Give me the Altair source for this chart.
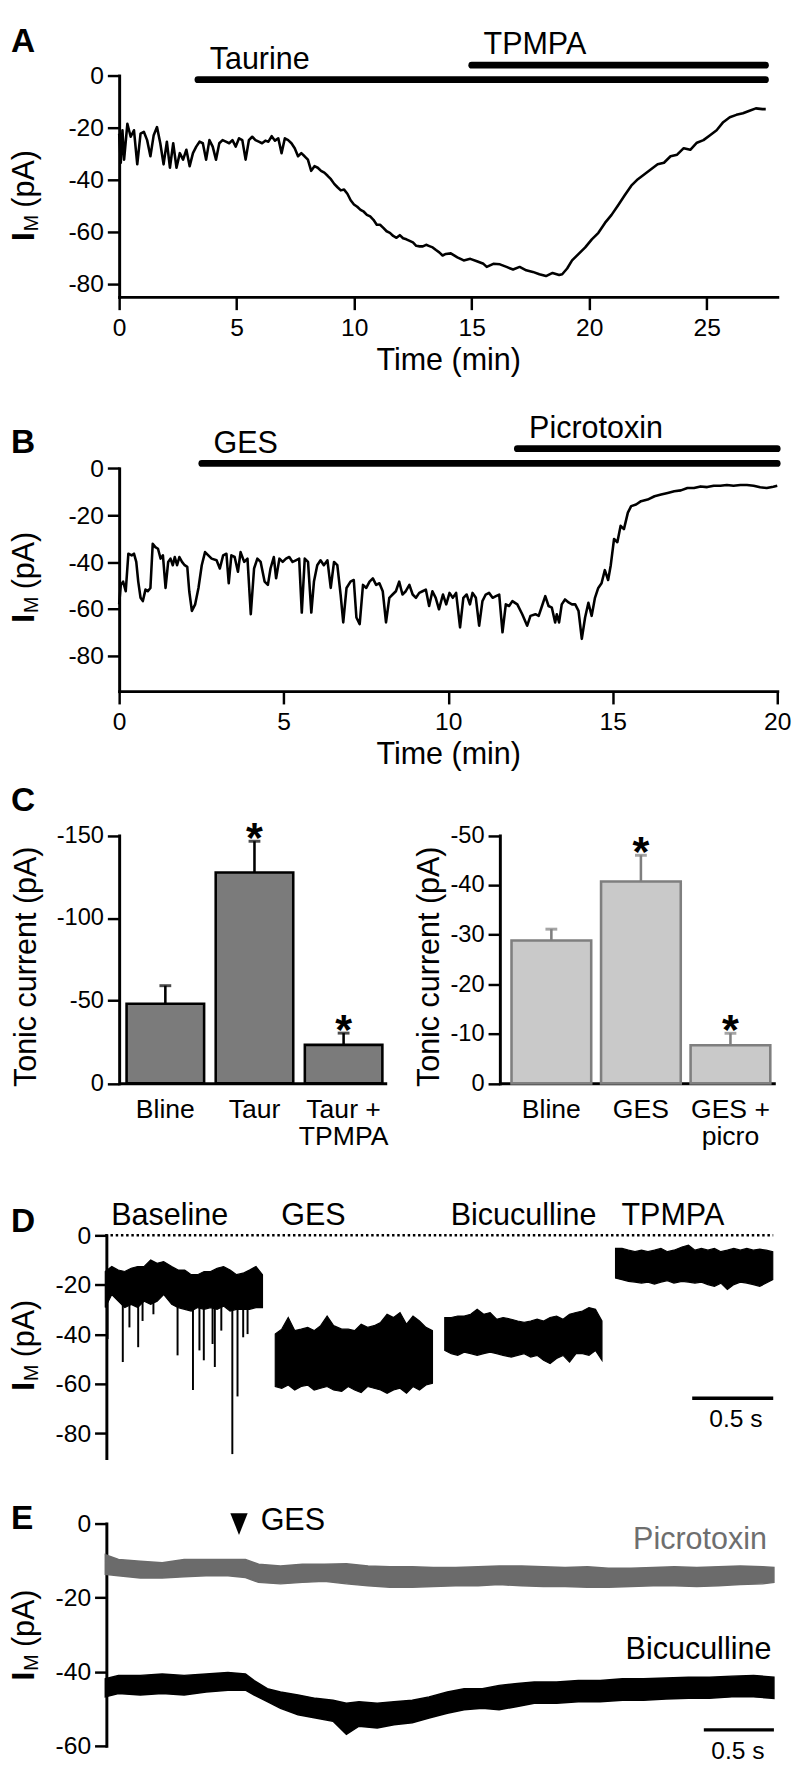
import altair as alt
import pandas as pd

FONT = "Liberation Sans"
W = 669

# ---------------- Panel A : taurine / TPMPA time course ----------------
A_TIME = [0.00, 0.07, 0.14, 0.21, 0.35, 0.49, 0.63, 0.77, 0.91, 1.05,
          1.19, 1.33, 1.47, 1.61, 1.75, 1.89, 2.03, 2.16, 2.30, 2.44,
          2.58, 2.72, 2.86, 3.00, 3.14, 3.28, 3.42, 3.56, 3.70, 3.84,
          3.98, 4.12, 4.26, 4.40, 4.54, 4.68, 4.82, 4.96, 5.10, 5.24,
          5.38, 5.52, 5.66, 5.80, 5.94, 6.08, 6.22, 6.35, 6.49, 6.63,
          6.77, 6.91, 7.05, 7.19, 7.33, 7.47, 7.61, 7.75, 7.89, 8.03,
          8.17, 8.31, 8.45, 8.59, 8.73, 8.87, 9.01, 9.15, 9.29, 9.43,
          9.57, 9.71, 9.85, 9.99, 10.13, 10.27, 10.41, 10.54, 10.68, 10.82,
          10.96, 11.10, 11.24, 11.38, 11.52, 11.66, 11.80, 11.94, 12.08, 12.22,
          12.36, 12.50, 12.64, 12.78, 12.92, 13.06, 13.20, 13.34, 13.48, 13.62,
          13.76, 13.90, 14.11, 14.39, 14.66, 14.94, 15.22, 15.50, 15.64, 15.92,
          16.20, 16.48, 16.76, 17.04, 17.32, 17.60, 17.88, 18.16, 18.44, 18.72,
          18.85, 19.06, 19.27, 19.55, 19.83, 20.11, 20.39, 20.67, 20.95, 21.23,
          21.51, 21.79, 22.07, 22.35, 22.63, 22.91, 23.18, 23.46, 23.74, 24.02,
          24.30, 24.58, 24.86, 25.14, 25.42, 25.70, 25.98, 26.26, 26.54, 26.82,
          27.09, 27.37, 27.51]
A_CURRENT = [-22.3, -33.5, -21.0, -32.3, -18.5, -23.5, -21.0, -34.1, -22.3, -21.6,
             -24.8, -31.0, -22.9, -19.8, -26.0, -34.1, -25.4, -35.4, -26.0, -35.4,
             -29.8, -32.3, -28.5, -34.8, -29.8, -27.3, -25.4, -26.0, -32.3, -24.8,
             -27.3, -32.3, -26.0, -24.8, -25.4, -26.0, -24.8, -27.3, -24.1, -24.8,
             -32.3, -24.8, -23.5, -24.8, -25.4, -26.0, -25.0, -25.4, -23.3, -25.0,
             -24.1, -29.8, -24.1, -24.8, -26.0, -27.9, -31.0, -29.8, -31.0, -32.3,
             -36.6, -34.8, -35.4, -36.6, -37.3, -38.5, -39.8, -41.6, -42.9, -44.1,
             -43.8, -45.4, -47.9, -49.5, -50.4, -51.6, -52.3, -53.5, -54.1, -55.4,
             -57.3, -57.3, -58.5, -59.8, -60.4, -61.6, -62.3, -61.3, -62.5, -62.9,
             -63.5, -64.1, -65.4, -65.6, -65.6, -65.0, -65.5, -66.0, -67.0, -67.9,
             -69.1, -68.5, -68.3, -69.8, -71.0, -70.4, -71.3, -72.3, -73.5, -72.3,
             -72.5, -73.5, -74.5, -73.5, -74.8, -75.4, -76.3, -77.0, -75.8, -76.6,
             -76.3, -74.1, -71.0, -68.5, -66.0, -62.9, -60.4, -56.6, -53.5, -49.8,
             -46.0, -42.3, -39.8, -37.9, -36.0, -34.1, -33.5, -31.0, -30.4, -27.9,
             -28.5, -25.8, -24.8, -22.9, -21.0, -17.9, -16.0, -15.1, -14.5, -13.5,
             -12.6, -12.9, -12.9]
A_DRUG = ["Taurine", "TPMPA"]
A_DRUG_ON = [3.35, 15.0]
A_DRUG_OFF = [27.5, 27.5]
A_DRUG_LEVEL = [-1.6, 4.0]

# ---------------- Panel B : GES / picrotoxin time course ----------------
B_TIME = [0.00, 0.05, 0.12, 0.20, 0.28, 0.38, 0.45, 0.52, 0.58, 0.65,
          0.72, 0.80, 0.87, 0.95, 1.02, 1.10, 1.18, 1.26, 1.33, 1.41,
          1.49, 1.56, 1.63, 1.69, 1.76, 1.83, 1.91, 1.99, 2.07, 2.13,
          2.21, 2.31, 2.41, 2.51, 2.61, 2.71, 2.81, 2.96, 3.06, 3.16,
          3.26, 3.33, 3.41, 3.51, 3.61, 3.69, 3.80, 3.90, 4.00, 4.10,
          4.20, 4.30, 4.42, 4.52, 4.60, 4.70, 4.77, 4.87, 4.97, 5.07,
          5.17, 5.27, 5.37, 5.47, 5.55, 5.64, 5.74, 5.84, 5.92, 6.02,
          6.12, 6.22, 6.33, 6.43, 6.53, 6.63, 6.73, 6.81, 6.91, 7.03,
          7.13, 7.21, 7.31, 7.41, 7.51, 7.61, 7.71, 7.81, 7.91, 8.01,
          8.11, 8.21, 8.31, 8.41, 8.51, 8.61, 8.71, 8.82, 8.92, 9.02,
          9.12, 9.22, 9.32, 9.42, 9.52, 9.62, 9.72, 9.84, 9.94, 10.04,
          10.14, 10.24, 10.36, 10.46, 10.56, 10.66, 10.74, 10.84, 10.94, 11.04,
          11.14, 11.24, 11.35, 11.45, 11.55, 11.65, 11.75, 11.85, 11.95, 12.10,
          12.25, 12.40, 12.50, 12.65, 12.75, 12.85, 12.95, 13.05, 13.15, 13.25,
          13.30, 13.37, 13.45, 13.55, 13.67, 13.76, 13.86, 13.96, 14.06, 14.16,
          14.26, 14.36, 14.46, 14.56, 14.66, 14.76, 14.86, 14.94, 15.04, 15.14,
          15.24, 15.34, 15.46, 15.56, 15.71, 15.86, 16.06, 16.27, 16.47, 16.67,
          16.87, 17.07, 17.27, 17.47, 17.67, 17.87, 18.07, 18.27, 18.47, 18.67,
          18.88, 19.08, 19.28, 19.48, 19.68, 19.88, 20.00]
B_CURRENT = [-58.0, -49.7, -48.3, -52.4, -36.4, -37.1, -36.4, -39.9, -48.3, -55.2,
             -56.6, -51.7, -52.4, -51.0, -32.2, -33.6, -34.3, -38.5, -37.1, -51.0,
             -39.9, -38.5, -41.3, -37.8, -41.3, -37.8, -39.9, -41.3, -42.0, -52.4,
             -60.8, -58.0, -51.0, -41.3, -35.7, -37.1, -38.5, -39.2, -42.7, -37.1,
             -36.4, -49.0, -37.1, -37.8, -44.1, -35.7, -39.9, -38.5, -62.2, -42.7,
             -38.5, -39.9, -48.3, -49.7, -42.7, -37.8, -46.9, -38.5, -39.9, -38.5,
             -37.8, -39.9, -39.2, -38.5, -61.5, -38.5, -39.9, -61.5, -48.3, -41.3,
             -39.2, -41.3, -39.2, -51.0, -39.9, -41.3, -53.8, -65.7, -51.0, -48.3,
             -47.6, -63.6, -66.4, -49.7, -51.0, -48.3, -46.9, -49.7, -49.0, -52.4,
             -65.7, -55.2, -53.8, -52.4, -48.3, -53.8, -52.4, -49.7, -53.8, -55.2,
             -53.1, -52.4, -51.7, -58.7, -52.4, -55.2, -60.1, -53.8, -58.0, -53.1,
             -55.2, -53.1, -67.8, -55.2, -53.8, -58.0, -53.1, -55.2, -67.1, -56.6,
             -53.8, -53.1, -55.2, -54.5, -53.8, -69.9, -58.0, -58.7, -56.6, -58.0,
             -62.2, -67.1, -62.9, -62.2, -62.9, -58.7, -54.5, -58.7, -59.4, -65.7,
             -62.2, -65.7, -58.0, -55.9, -57.3, -58.0, -58.0, -60.8, -72.7, -63.6,
             -57.3, -62.9, -55.2, -51.0, -49.0, -43.4, -47.6, -41.3, -30.1, -31.5,
             -24.5, -25.9, -18.9, -16.1, -15.4, -14.0, -13.3, -11.9, -11.2, -10.5,
             -9.8, -9.4, -8.4, -8.4, -7.7, -8.0, -7.4, -7.4, -7.1, -7.4,
             -7.1, -7.1, -7.4, -8.1, -8.4, -7.8, -7.4]
B_DRUG = ["GES", "Picrotoxin"]
B_DRUG_ON = [2.51, 12.1]
B_DRUG_OFF = [20.0, 20.0]
B_DRUG_LEVEL = [2.1, 8.4]

# ---------------- Panel C : tonic current bars ----------------
C_LEFT_CATS = ["Bline", "Taur", "Taur +\nTPMPA"]
C_LEFT_MEAN = [-48.2, -127.6, -23.3]
C_LEFT_SEM_TOP = [-59.1, -146.5, -30.4]
C_LEFT_SIG = [False, True, True]
C_RIGHT_CATS = ["Bline", "GES", "GES +\npicro"]
C_RIGHT_MEAN = [-28.8, -40.7, -7.7]
C_RIGHT_SEM_TOP = [-31.1, -46.0, -10.1]
C_RIGHT_SIG = [False, True, True]

# ---------------- Panel D : 1-s current sweeps ----------------
D_SEGMENTS = ["Baseline", "GES", "Bicuculline", "TPMPA"]
D_SEG_START = [0.0, 1.049, 2.095, 3.149]
D_T_LOCAL = [0.00, 0.04, 0.08, 0.12, 0.16, 0.20, 0.24, 0.28, 0.32, 0.36,
             0.41, 0.45, 0.49, 0.53, 0.57, 0.61, 0.65, 0.69, 0.73, 0.77,
             0.81, 0.85, 0.89, 0.93, 0.97]
D_UPPER = {
    "Baseline": [-14.6, -12.6, -14.0, -14.6, -13.3, -12.6, -12.6, -10.0, -11.3, -10.6,
                 -12.6, -14.0, -14.0, -15.9, -15.9, -14.6, -14.6, -13.3, -12.6, -14.0,
                 -15.9, -15.3, -14.0, -12.6, -15.9],
    "GES": [-39.9, -37.9, -33.2, -38.5, -37.9, -37.2, -38.5, -36.5, -32.6, -36.5,
            -37.9, -37.9, -38.5, -35.9, -37.2, -36.5, -35.2, -31.9, -33.2, -31.2,
            -35.9, -32.6, -34.6, -37.2, -38.5],
    "Bicuculline": [-33.2, -33.2, -32.6, -32.6, -31.9, -29.9, -31.9, -31.2, -33.9, -33.2,
                    -33.9, -34.6, -35.2, -34.6, -33.9, -34.6, -33.2, -32.6, -33.9, -31.9,
                    -31.2, -30.6, -29.2, -29.9, -34.6],
    "TPMPA": [-5.3, -5.3, -6.0, -6.6, -6.0, -6.6, -6.0, -5.3, -6.6, -6.0,
              -4.7, -4.0, -6.0, -5.3, -6.0, -5.3, -6.6, -6.0, -5.3, -6.0,
              -5.3, -6.0, -5.6, -6.0, -6.6],
}
D_LOWER = {
    "Baseline": [-29.2, -23.9, -26.6, -29.2, -27.9, -29.2, -26.6, -27.9, -26.6, -23.9,
                 -27.9, -29.2, -29.9, -30.6, -29.2, -29.9, -29.2, -29.9, -28.6, -30.6,
                 -29.9, -29.9, -29.9, -29.2, -29.2],
    "GES": [-61.1, -61.8, -60.5, -62.5, -61.1, -60.5, -62.5, -61.8, -61.1, -62.5,
            -63.1, -61.1, -62.5, -63.5, -61.1, -61.8, -62.5, -63.8, -62.5, -61.8,
            -63.8, -61.1, -62.5, -60.5, -59.8],
    "Bicuculline": [-46.5, -47.8, -48.5, -47.2, -47.8, -48.5, -47.8, -47.2, -47.8, -48.5,
                    -49.2, -48.5, -47.8, -49.2, -48.5, -50.5, -51.8, -49.8, -48.5, -51.2,
                    -47.8, -47.8, -48.5, -46.5, -50.5],
    "TPMPA": [-17.3, -17.9, -18.6, -18.9, -19.3, -18.9, -19.7, -18.9, -18.3, -19.3,
              -18.6, -18.9, -19.3, -18.9, -19.9, -20.6, -19.3, -21.9, -19.9, -18.9,
              -19.3, -19.9, -20.6, -19.3, -17.9],
}
D_SPIKE_T = [0.014, 0.108, 0.149, 0.203, 0.230, 0.297, 0.446, 0.541, 0.581, 0.608,
             0.662, 0.676, 0.716, 0.784, 0.816, 0.851, 0.878]
D_SPIKE_PEAK = [-41.9, -51.2, -37.2, -45.2, -34.6, -31.9, -48.5, -62.5, -46.5, -50.5,
                -43.9, -53.2, -38.5, -88.4, -65.1, -41.2, -39.9]
D_SPIKE_BASE = -26.0
D_END = 4.122
D_SCALEBAR = [3.622, 4.122]
D_SCALEBAR_LEVEL = -65.8

# ---------------- Panel E : GES puff under picrotoxin / bicuculline ----------------
E_P_TIME = [0.0, 0.094, 0.25, 0.406, 0.5625, 0.719, 0.875, 1.0, 1.094, 1.25,
            1.406, 1.5625, 1.72, 1.875, 2.03, 2.19, 2.34, 2.5, 2.66, 2.81,
            2.97, 3.125, 3.28, 3.44, 3.59, 3.75, 3.91, 4.06, 4.22, 4.375,
            4.53, 4.69, 4.77]
E_P_UPPER = [-8.4, -9.7, -10.2, -10.6, -9.7, -9.7, -9.7, -9.7, -11.0, -11.5,
             -11.0, -11.0, -10.9, -11.5, -11.7, -11.7, -11.9, -11.9, -11.7, -11.5,
             -11.5, -11.7, -11.9, -11.7, -12.1, -12.1, -11.9, -11.7, -11.9, -11.7,
             -11.5, -11.7, -11.9]
E_P_LOWER = [-13.7, -14.1, -14.7, -14.7, -14.4, -14.1, -14.1, -14.6, -15.9, -16.3,
             -15.9, -15.6, -16.3, -16.8, -17.2, -17.2, -17.0, -16.8, -16.8, -16.5,
             -16.8, -17.0, -17.0, -17.2, -17.2, -17.0, -16.8, -16.8, -17.0, -16.8,
             -16.5, -16.3, -15.9]
E_B_TIME = [0.0, 0.094, 0.25, 0.406, 0.5625, 0.719, 0.875, 1.0, 1.0625, 1.156,
            1.25, 1.375, 1.5, 1.625, 1.72, 1.81, 1.94, 2.06, 2.19, 2.31,
            2.44, 2.56, 2.69, 2.81, 2.94, 3.06, 3.22, 3.375, 3.53, 3.69,
            3.84, 4.0, 4.16, 4.31, 4.47, 4.625, 4.77]
E_B_UPPER = [-41.9, -41.0, -41.0, -40.6, -41.0, -40.6, -40.2, -40.6, -42.4, -44.6,
             -45.5, -46.3, -47.2, -47.7, -48.5, -48.1, -48.5, -48.1, -47.7, -46.8,
             -45.5, -44.6, -44.6, -43.7, -43.2, -42.8, -42.8, -42.4, -42.4, -41.9,
             -41.9, -41.7, -41.5, -41.5, -41.2, -41.0, -41.5]
E_B_LOWER = [-46.8, -45.9, -46.3, -45.9, -46.3, -45.5, -45.0, -45.0, -46.3, -48.1,
             -49.9, -51.6, -52.5, -53.4, -56.9, -54.7, -55.2, -54.3, -53.8, -52.5,
             -51.2, -50.3, -49.9, -50.3, -49.4, -48.5, -48.5, -48.1, -48.1, -47.7,
             -47.7, -47.4, -47.2, -47.2, -46.8, -46.8, -47.2]
E_GES_TIME = 0.954
E_END = 4.77
E_SCALEBAR = [4.27, 4.77]
E_SCALEBAR_LEVEL = -55.7


# ---------------- helpers ----------------
def ax_y(values, offset=0, size=25, tick=12):
    return alt.Axis(values=values, title=None, orient="left", offset=offset,
                    domainColor="black", domainWidth=3, domainCap="square",
                    tickColor="black", tickWidth=2.5, tickSize=tick,
                    labelFont=FONT, labelFontSize=size, labelColor="black",
                    labelPadding=4, labelExpr="'' + datum.value",
                    labelOverlap=False, grid=False)


def ax_x(values, title):
    return alt.Axis(values=values, title=title, orient="bottom",
                    domainColor="black", domainWidth=3, domainCap="square",
                    tickColor="black", tickWidth=2.5, tickSize=13,
                    labelFont=FONT, labelFontSize=25, labelColor="black",
                    labelPadding=6, labelExpr="'' + datum.value",
                    labelFlush=False, labelOverlap=False,
                    titleFont=FONT, titleFontSize=31, titleFontWeight="normal",
                    titleColor="black", titlePadding=6, grid=False)


def text_at(s, x, y, size=31, weight="normal", align="left", angle=0,
            color="black", baseline="alphabetic"):
    return alt.Chart(pd.DataFrame({"s": [s]})).mark_text(
        font=FONT, fontSize=size, fontWeight=weight, align=align, angle=angle,
        baseline=baseline, color=color).encode(
        text="s:N", x=alt.value(x), y=alt.value(y))


def letter(ch, y):
    return text_at(ch, -110, y, size=34, weight="bold")


def im_title(y0):
    return [text_at("I", -87, y0, size=32, weight="bold", angle=270),
            text_at("M", -82, y0 - 10, size=20, angle=270),
            text_at("(pA)", -87, y0 - 34, size=31, angle=270)]


# invisible top-left corner of the figure (keeps the page origin fixed)
corner = alt.Chart(pd.DataFrame({"k": [0]})).mark_rule(
    strokeOpacity=0, strokeWidth=0.1).encode(
    x=alt.value(-110), x2=alt.value(-108), y=alt.value(-53.7))


def time_course(times, currents, drug, on, off, level, xdom, xticks,
                ydom, yrange, height, let, let_y, title_y, extra=()):
    n = min(len(times), len(currents))
    df = pd.DataFrame({"t": times[:n], "i": currents[:n]})
    ddf = pd.DataFrame({"drug": drug, "on": on, "off": off, "level": level})
    xs = alt.Scale(domain=xdom, range=[0, W], nice=False, zero=False)
    ys = alt.Scale(domain=ydom, range=yrange, nice=False, zero=False)
    XA = ax_x(xticks, "Time (min)")
    YA = ax_y([0, -20, -40, -60, -80])
    trace = alt.Chart(df).mark_line(color="black", strokeWidth=2.6,
                                    strokeJoin="round").encode(
        x=alt.X("t:Q", scale=xs, axis=XA),
        y=alt.Y("i:Q", scale=ys, axis=YA))
    bars = alt.Chart(ddf).mark_rule(color="black", strokeWidth=6.8,
                                    strokeCap="round").encode(
        x=alt.X("on:Q", scale=xs, axis=XA), x2="off:Q",
        y=alt.Y("level:Q", scale=ys, axis=YA))
    labs = alt.Chart(ddf).mark_text(font=FONT, fontSize=31, align="left",
                                    baseline="alphabetic", dx=12, dy=-11,
                                    color="black").encode(
        x=alt.X("on:Q", scale=xs, axis=XA),
        y=alt.Y("level:Q", scale=ys, axis=YA), text="drug:N")
    return alt.layer(trace, bars, labs, letter(let, let_y),
                     *im_title(title_y), *extra).properties(width=W, height=height)


# ---------------- Panel A & B ----------------
panel_a = time_course(A_TIME, A_CURRENT, A_DRUG, A_DRUG_ON, A_DRUG_OFF, A_DRUG_LEVEL,
                      [0, 28], [0, 5, 10, 15, 20, 25], [-85, 0], [225, 0], 225,
                      "A", -23.7, 168.3, extra=(corner,))
panel_b = time_course(B_TIME, B_CURRENT, B_DRUG, B_DRUG_ON, B_DRUG_OFF, B_DRUG_LEVEL,
                      [0, 20], [0, 5, 10, 15, 20], [-95, 0], [400.8, 174.3], 400.8,
                      "B", 158.3, 331.3)

# ---------------- Panel C ----------------
C_H = 398.5


def bar_side(cats, mean, top, sig, xrange, pin, pout, align, ydom, yticks,
             yoffset, fill, edge, title_x, label_y):
    df = pd.DataFrame({"cat": cats, "mean": mean, "top": top, "sig": sig})
    xs = alt.Scale(domain=cats, range=xrange, paddingInner=pin,
                   paddingOuter=pout, align=align)
    ys = alt.Scale(domain=ydom, range=[C_H, 146.5], nice=False, zero=False)
    XA = alt.Axis(title=None, labels=False, ticks=False, orient="bottom",
                  domainColor="black", domainWidth=3, grid=False)
    YA = ax_y(yticks, offset=yoffset, size=24)
    X = alt.X("cat:N", sort=cats, scale=xs, axis=XA)
    bars = alt.Chart(df).mark_bar(fill=fill, stroke=edge, strokeWidth=2.6).encode(
        x=X, y=alt.Y("mean:Q", scale=ys, axis=YA))
    err = alt.Chart(df).mark_rule(color=edge, strokeWidth=2.6).encode(
        x=X, y=alt.Y("mean:Q", scale=ys, axis=YA), y2="top:Q")
    cap = alt.Chart(df).mark_tick(color=edge, thickness=3, size=12).encode(
        x=X, y=alt.Y("top:Q", scale=ys, axis=YA))
    star = alt.Chart(df).transform_filter("datum.sig").mark_text(
        text="*", font=FONT, fontSize=44, fontWeight="bold",
        baseline="alphabetic", dy=11, color="black").encode(
        x=X, y=alt.Y("top:Q", scale=ys, axis=YA))
    labs = alt.Chart(df).mark_text(font=FONT, fontSize=27, baseline="top",
                                   lineBreak="\n", lineHeight=27,
                                   color="black").encode(
        x=X, y=alt.value(label_y), text="cat:N")
    ttl = text_at("Tonic current (pA)", title_x, 280, align="center", angle=270)
    return alt.layer(bars, err, cap, star, labs, ttl)


left_c = bar_side(C_LEFT_CATS, C_LEFT_MEAN, C_LEFT_SEM_TOP, C_LEFT_SIG,
                  [0, 272], 0.13, 0.066, 0.63, [0, -150], [0, -50, -100, -150],
                  0, "#7b7b7b", "black", -85, 413)
right_c = bar_side(C_RIGHT_CATS, C_RIGHT_MEAN, C_RIGHT_SEM_TOP, C_RIGHT_SIG,
                   [387, 667], 0.11, 0.093, 0.7, [0, -50], [0, -10, -20, -30, -40, -50],
                   -387, "#c9c9c9", "#7f7f7f", 325, 413)
panel_c = alt.layer(left_c, right_c, letter("C", 121.5)).resolve_scale(
    x="independent", y="independent").properties(width=W, height=C_H)

# ---------------- Panel D ----------------
D_H = 380.4
rows = []
for seg, t0 in zip(D_SEGMENTS, D_SEG_START):
    for tl, up, lo in zip(D_T_LOCAL, D_UPPER[seg], D_LOWER[seg]):
        rows.append({"seg": seg, "t": t0 + tl, "up": up, "lo": lo})
d_df = pd.DataFrame(rows)
d_spk = pd.DataFrame({"t": D_SPIKE_T, "peak": D_SPIKE_PEAK,
                      "base": [D_SPIKE_BASE] * len(D_SPIKE_T)})
d_lab = pd.DataFrame({"seg": D_SEGMENTS, "t": D_SEG_START})
d_zero = pd.DataFrame({"t0": [0.0], "t1": [D_END], "i": [0.0]})
d_bar = pd.DataFrame({"t0": [D_SCALEBAR[0]], "t1": [D_SCALEBAR[1]],
                      "i": [D_SCALEBAR_LEVEL]})
dxs = alt.Scale(domain=[0, D_END], range=[-14.1, 664.9], nice=False, zero=False)
dys = alt.Scale(domain=[-90, 0], range=[D_H, 154], nice=False, zero=False)
DY = ax_y([0, -20, -40, -60, -80], offset=13)
d_area = alt.Chart(d_df).mark_area(color="black", opacity=1, stroke="black",
                                   strokeWidth=1.2, interpolate="linear").encode(
    x=alt.X("t:Q", scale=dxs, axis=None),
    y=alt.Y("up:Q", scale=dys, axis=DY), y2="lo:Q", detail="seg:N")
d_spikes = alt.Chart(d_spk).mark_rule(color="black", strokeWidth=2).encode(
    x=alt.X("t:Q", scale=dxs, axis=None),
    y=alt.Y("peak:Q", scale=dys, axis=DY), y2="base:Q")
d_zero_line = alt.Chart(d_zero).mark_rule(color="black", strokeWidth=2.5,
                                          strokeDash=[2.5, 2.8]).encode(
    x=alt.X("t0:Q", scale=dxs, axis=None), x2="t1:Q",
    y=alt.Y("i:Q", scale=dys, axis=DY))
d_labels = alt.Chart(d_lab).mark_text(font=FONT, fontSize=31, align="left",
                                      baseline="alphabetic", dx=6,
                                      color="black").encode(
    x=alt.X("t:Q", scale=dxs, axis=None), y=alt.value(143), text="seg:N")
d_sbar = alt.Chart(d_bar).mark_rule(color="black", strokeWidth=3.5).encode(
    x=alt.X("t0:Q", scale=dxs, axis=None), x2="t1:Q",
    y=alt.Y("i:Q", scale=dys, axis=DY))
panel_d = alt.layer(d_area, d_spikes, d_zero_line, d_labels, d_sbar,
                    text_at("0.5 s", 627, 349, size=25, align="center"),
                    letter("D", 151), *im_title(312)).properties(width=W, height=D_H)

# ---------------- Panel E ----------------
E_H = 291.9
e_p = pd.DataFrame({"t": E_P_TIME, "up": E_P_UPPER, "lo": E_P_LOWER})
e_b = pd.DataFrame({"t": E_B_TIME, "up": E_B_UPPER, "lo": E_B_LOWER})
e_bar = pd.DataFrame({"t0": [E_SCALEBAR[0]], "t1": [E_SCALEBAR[1]],
                      "i": [E_SCALEBAR_LEVEL]})
e_ges = pd.DataFrame({"t": [E_GES_TIME], "s": ["GES"]})
exs = alt.Scale(domain=[0, E_END], range=[-14.1, 665.6], nice=False, zero=False)
eys = alt.Scale(domain=[-60, 0], range=[E_H, 65.9], nice=False, zero=False)
EY = ax_y([0, -20, -40, -60], offset=13)
e_parea = alt.Chart(e_p).mark_area(color="#6b6b6b", opacity=1, stroke="#6b6b6b",
                                   strokeWidth=1.5).encode(
    x=alt.X("t:Q", scale=exs, axis=None),
    y=alt.Y("up:Q", scale=eys, axis=EY), y2="lo:Q")
e_barea = alt.Chart(e_b).mark_area(color="black", opacity=1, stroke="black",
                                   strokeWidth=1.5).encode(
    x=alt.X("t:Q", scale=exs, axis=None),
    y=alt.Y("up:Q", scale=eys, axis=EY), y2="lo:Q")
e_arrow = alt.Chart(e_ges).mark_point(shape="M-0.8,-1L0.8,-1L0,1Z", size=484,
                                      filled=True, color="black",
                                      opacity=1).encode(
    x=alt.X("t:Q", scale=exs, axis=None), y=alt.value(66.5))
e_gtxt = alt.Chart(e_ges).mark_text(font=FONT, fontSize=31, align="left",
                                    baseline="alphabetic", dx=22, dy=6,
                                    color="black").encode(
    x=alt.X("t:Q", scale=exs, axis=None), y=alt.value(66.5), text="s:N")
e_sbar = alt.Chart(e_bar).mark_rule(color="black", strokeWidth=3.5).encode(
    x=alt.X("t0:Q", scale=exs, axis=None), x2="t1:Q",
    y=alt.Y("i:Q", scale=eys, axis=EY))
panel_e = alt.layer(e_parea, e_barea, e_arrow, e_gtxt, e_sbar,
                    text_at("Picrotoxin", 658.5, 91.9, align="right", color="#6e6e6e"),
                    text_at("Bicuculline", 663.0, 203.6, align="right"),
                    text_at("0.5 s", 629, 305.6, size=25, align="center"),
                    letter("E", 71.6), *im_title(225.6)).properties(width=W, height=E_H)

chart = alt.vconcat(panel_a, panel_b, panel_c, panel_d, panel_e,
                    spacing=0, bounds="flush").properties(
    padding={"left": 0, "top": 0, "right": 2, "bottom": 0}
).configure_view(stroke=None)

chart.save("out.html", embed_options={"renderer": "svg", "actions": False})
